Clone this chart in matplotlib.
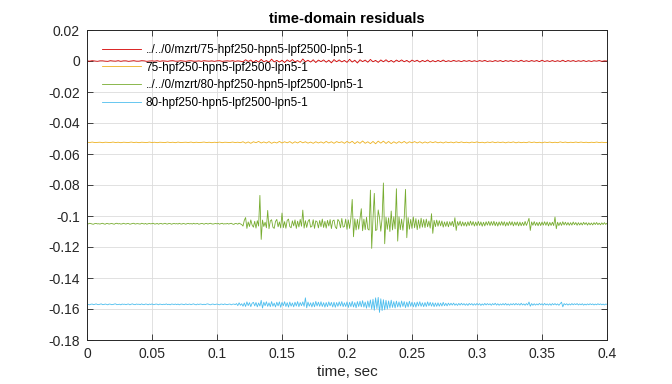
import numpy as np
import matplotlib
matplotlib.use("Agg")
import matplotlib.pyplot as plt

plt.rcParams['font.family'] = ['Liberation Sans', 'DejaVu Sans']

# residual samples in units of 1e-4, evenly spaced over 0 .. 0.4 s
# (red / orange: every 2 ms, green / blue: every 1 ms)
t_end = 0.4

red_res = [
    1, -1, 2, 0, -2, 1, 1, -1, -2, 2,
    0, -1, 2, -2, 1, 1, -2, 0, 2, -1,
    -1, 2, 1, -2, 0, 1, -1, 2, -2, 1,
    0, -2, 1, 2, -1, -1, 2, 0, -2, 1,
    2, -1, -1, 1, -2, 2, 0, -1, 1, -2,
    1, 2, -2, 0, 1, -1, 2, -2, 1, -1,
    -5, 8, -3, 6, -9, 4, -7, 10, -5, 3,
    -8, 12, -6, 4, -7, 5, -10, 7, -4, 9,
    -6, 3, -9, 13, -5, 5, -7, 8, -10, 6,
    -4, 7, -8, 5, -12, 9, -5, 7, -6, 4,
    -9, 11, -7, 5, -13, 8, -4, 6, -8, 10,
    -5, 4, -9, 7, -5, 8, -6, 4, -8, 6,
    -4, 7, -5, 4, -8, 6, -3, 5, -7, 4,
    -4, 6, -6, 3, -5, 4, -4, 6, -4, 2,
    -3, 4, -2, 2, -4, 3, -2, 3, -3, 2,
    -3, 3, -2, 4, -3, 1, -3, 3, -2, 3,
    -4, 3, -2, 3, -3, 2, -3, 5, -3, 2,
    -3, 3, -2, 3, -4, 5, -3, 2, -3, 3,
    -3, 2, -3, 5, -4, 3, -2, 3, -3, 2,
    -2, 3, -3, 2, -3, 2, -1, 3, -2, 1,
    0]

orange_res = [
    1, -1, 2, -1, 0, 1, -2, 1, 0, -1,
    2, -1, 1, -2, 1, 0, -1, 2, -1, 1,
    -2, 1, 0, -1, 2, -1, 1, -2, 1, 0,
    -1, 2, -1, 1, -2, 2, -1, 0, 1, -1,
    2, -2, 1, -1, 0, 2, -1, 1, -2, 1,
    -1, 2, -2, 1, 0, -1, 2, -1, 1, -2,
    4, -5, 3, -6, 4, -2, 6, -4, 3, -4,
    5, -6, 2, -4, 6, -4, 4, -3, 5, -6,
    4, -4, 6, -3, 4, -5, 2, -6, 4, -4,
    3, -5, 6, -4, 4, -6, 5, -2, 4, -6,
    6, -4, 7, -8, 5, -6, 9, -6, 4, -8,
    6, -9, 8, -5, 8, -7, 6, -8, 4, -6,
    5, -4, 6, -6, 4, -3, 5, -4, 4, -5,
    3, -4, 4, -2, 4, -3, 2, -4, 3, -2,
    2, -3, 3, -2, 3, -2, 1, -3, 2, -1,
    3, -2, 1, -3, 2, -1, 3, -2, 2, -1,
    2, -3, 2, -1, 3, -3, 2, -2, 1, -2,
    3, -1, 2, -2, 1, -3, 2, -1, 2, -2,
    1, -2, 3, -1, 2, -2, 1, -1, 2, -1,
    2, -1, 1, -2, 1, -1, 2, -1, 1, -1,
    0]

green_res = [
    2, -1, 3, 1, -2, -3, 1, 2, -1, 0,
    -2, 1, 3, -1, -3, 2, 1, -2, 0, 2,
    -1, -3, 2, 3, -1, 1, -2, -1, 3, 0,
    -2, 2, 1, -3, -1, 2, 3, -2, 0, 1,
    -1, -2, 3, 1, -2, 2, -3, 0, 2, -1,
    1, 3, -2, -1, 2, -3, 1, 2, -2, 0,
    3, -1, -2, 2, 1, -3, 0, 2, -1, 1,
    -2, 3, -1, -2, 2, 0, -3, 1, 2, -1,
    1, -2, 3, -1, 0, 2, -3, -1, 2, 1,
    -3, 1, 2, -2, 1, 3, -1, -2, 0, 2,
    -1, 2, -3, 1, 3, -2, 0, -1, 2, -2,
    1, 3, -2, -4, 2, 1, -3, 4, -1, -5,
    -15, 22, 40, -30, 12, -18, 25, -8, -22, 16,
    -28, 20, -15, 183, -101, 24, -18, 10, -26, 86,
    -32, 18, 26, -22, -30, 15, 28, -20, 12, -27,
    69, -25, 14, -29, 22, 30, -18, -26, 19, -14,
    25, -30, 17, -21, 28, -16, 88, -28, 20, -24,
    15, 28, -22, -17, 26, -30, 19, 12, -27, 21,
    -19, 30, -24, 16, -28, 22, -15, 27, -31, 18,
    24, -20, -32, 28, 15, -26, 34, -22, -18, 30,
    -36, 25, -30, 38, 157, -84, 32, -40, 28, -35,
    34, 97, -45, 30, -38, 42, -33, -41, 217, -159,
    36, 196, -44, -38, 89, 40, -48, 35, 263, -129,
    42, -36, 38, -50, 82, -40, 45, -33, 226, -112,
    45, -38, 30, -42, 36, 222, -90, 40, -35, 28,
    -30, 44, -26, 33, -38, 25, -29, 36, -22, 27,
    -25, 30, -20, 18, -28, 65, -62, 22, -19, 24,
    -16, 20, -14, 18, -22, 12, -17, 15, -20, 13,
    -12, 16, -19, 39, -43, 14, -11, 17, -15, 12,
    -14, 10, -16, 13, -12, 17, -10, 14, -15, 11,
    -13, 15, -11, 12, -16, 10, -14, 13, -9, 15,
    -12, 14, -10, 16, -13, 11, -15, 12, -10, 14,
    -11, 13, -15, 10, -12, 14, -9, 13, -14, 11,
    -10, 12, -14, 11, -13, 9, -12, 15, -11, 10,
    35, -43, 12, -10, 14, -11, 9, -13, 10, -12,
    11, -9, 13, -10, 12, -14, 9, -11, 10, -12,
    43, -32, 10, -12, 9, -11, 13, -8, 10, -9,
    8, -10, 7, -9, 11, -6, 8, -10, 7, -8,
    6, -8, 9, -5, 7, -9, 6, -7, 5, -8,
    7, -5, 8, -6, 4, -7, 6, -5, 7, -4,
    3]

blue_res = [
    2, -1, -3, 1, 2, -2, 0, 3, -1, -2,
    1, 3, -2, -1, 2, 0, -3, 2, 1, -2,
    -1, 2, 3, -2, -1, 1, -3, 2, 0, 1,
    -2, 1, 2, -3, 1, 3, -1, -2, 2, 0,
    1, -2, 3, -1, -2, 2, 1, -3, 2, -1,
    3, -2, -1, 2, 1, -3, 2, 0, -2, 1,
    -1, 3, -2, 1, -3, 2, 1, -1, 2, -2,
    2, -3, 1, 2, -1, -2, 3, -1, 0, 2,
    -2, 1, 3, -1, -3, 2, -1, 2, 1, -2,
    1, -2, 2, 3, -1, -3, 1, 2, -2, 0,
    2, -1, -3, 2, 1, -2, 3, -1, -2, 1,
    2, -3, 1, 2, -2, 5, -8, 10, -6, 4,
    -12, 9, -14, 16, -8, 11, -15, 7, 13, -10,
    12, -16, 9, -11, 26, -24, 14, -9, 17, -13,
    10, -15, 18, -12, 8, -17, 14, -10, 16, -19,
    13, -9, 17, -14, 11, -18, 15, -12, 9, -16,
    14, -11, 18, -15, 12, -9, 16, -13, 42, -22,
    15, -12, 10, -17, 13, -16, 19, -11, 14, -13,
    17, -14, 11, -18, 12, -15, 16, -10, 13, -17,
    14, -19, 12, -13, 16, -11, 18, -15, 10, -14,
    16, -20, 13, -15, 19, -17, 12, -22, 18, -14,
    20, -16, 24, -18, 15, -25, 22, -19, 28, -30,
    33, -38, 42, -28, 45, -52, 36, -40, 30, -35,
    26, -30, 22, -24, 27, -20, 18, -23, 21, -17,
    16, -19, 22, -14, 18, -21, 15, -17, 20, -13,
    14, -16, 12, -18, 15, -11, 17, -13, 10, -15,
    12, -14, 16, -10, 13, -12, 11, -15, 9, -13,
    10, -12, 8, -11, 13, -9, 7, -10, 8, -6,
    7, -5, 8, -6, 4, -7, 6, -5, 7, -4,
    5, -6, 4, -7, 6, -3, 5, -6, 4, -5,
    6, -4, 5, -7, 3, -5, 6, -4, 5, -3,
    4, -6, 5, -3, 7, -5, 4, -6, 3, -4,
    5, -4, 6, -5, 3, -6, 4, -3, 5, -4,
    6, -3, 4, -5, 7, -4, 3, -6, 5, -4,
    15, -12, 5, -6, 4, -5, 3, -4, 6, -3,
    4, -5, 6, -4, 3, -5, 4, -6, 5, -3,
    5, -4, 3, -6, 4, 14, -16, 5, -3, 4,
    -5, 3, -4, 5, -3, 4, -2, 5, -4, 3,
    -3, 4, -5, 2, -4, 3, -3, 4, -2, 3,
    -4, 2, -3, 4, -2, 3, -3, 2, -4, 2,
    0]

offsets = [0.0, -0.0525, -0.105, -0.157]
labels = ['../../0/mzrt/75-hpf250-hpn5-lpf2500-lpn5-1',
          '75-hpf250-hpn5-lpf2500-lpn5-1',
          '../../0/mzrt/80-hpf250-hpn5-lpf2500-lpn5-1',
          '80-hpf250-hpn5-lpf2500-lpn5-1']
colors = ['#D50000', '#EDB120', '#77AC30', '#4DBEEE']

xticks = [0, 0.05, 0.1, 0.15, 0.2, 0.25, 0.3, 0.35, 0.4]
xticklabels = ['0', '0.05', '0.1', '0.15', '0.2', '0.25', '0.3', '0.35', '0.4']
yticks = [0.02, 0, -0.02, -0.04, -0.06, -0.08, -0.1, -0.12, -0.14, -0.16, -0.18]
yticklabels = ['0.02', '0', '-0.02', '-0.04', '-0.06', '-0.08', '-0.1',
               '-0.12', '-0.14', '-0.16', '-0.18']

fig = plt.figure(figsize=(6.72, 3.84), dpi=100)
ax = fig.add_axes([87/672, 1 - 340/384, 520/672, 310/384])

series = [red_res, orange_res, green_res, blue_res]
for res, off, lab, col in zip(series, offsets, labels, colors):
    vals = np.array(res) * 1e-4 + off
    t = np.linspace(0, t_end, len(vals))
    ax.plot(t, vals, color=col, lw=0.6, label=lab)

ax.set_xlim(0, 0.4)
ax.set_ylim(-0.18, 0.02)
ax.set_xticks(xticks)
ax.set_xticklabels(xticklabels)
ax.set_yticks(yticks)
ax.set_yticklabels(yticklabels)

ax.grid(True, color='#dcdcdc', lw=0.6)
ax.set_axisbelow(True)
ax.tick_params(direction='in', top=True, right=True, length=4, width=0.6,
               labelsize=10, colors='#262626', pad=5)
for s in ax.spines.values():
    s.set_linewidth(0.7)
    s.set_color('#262626')

ax.set_xlabel('time, sec', fontsize=11, color='#262626', labelpad=3)
ax.set_title('time-domain residuals', fontsize=10.5, fontweight='bold', pad=5)

ax.legend(loc='upper left', bbox_to_anchor=(0.029, 0.955), frameon=False,
          fontsize=8.5, handlelength=3.3, handletextpad=0.4, labelspacing=0.48,
          borderpad=0, borderaxespad=0)

fig.savefig('out.png', dpi=100)
